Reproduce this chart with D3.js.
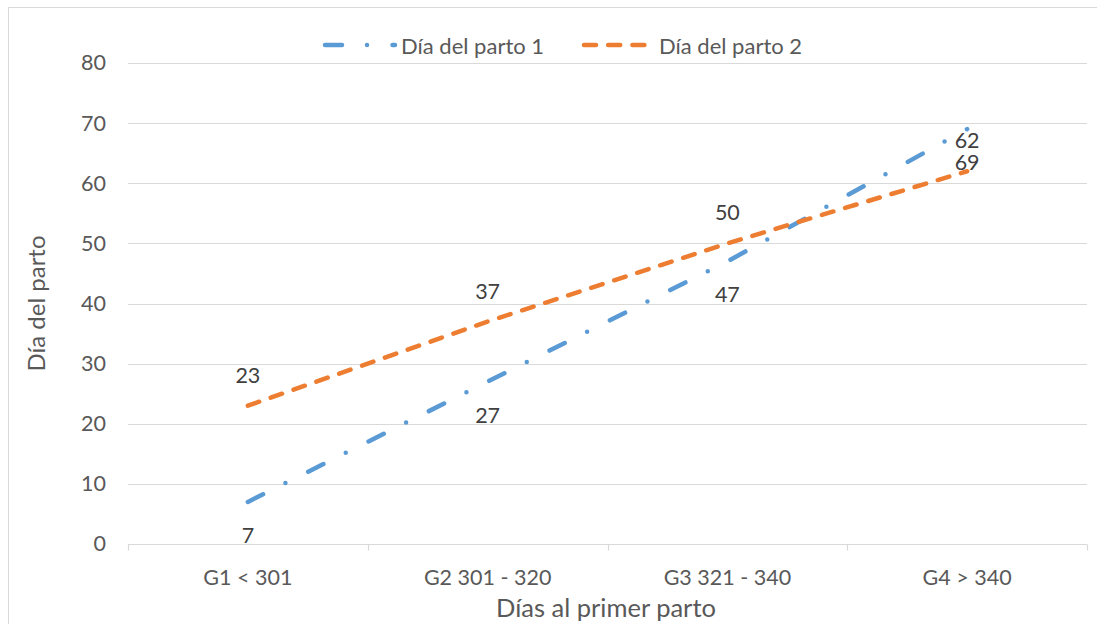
<!DOCTYPE html>
<html>
<head>
<meta charset="utf-8">
<script src="https://cdn.jsdelivr.net/npm/d3@7"></script>
<style>
  body { margin: 0; background: #fff; }
  svg { display: block; }
</style>
</head>
<body>
<svg id="chart" width="1097" height="624"></svg>
<script>
// Categories and series
const categories = ["G1 < 301", "G2 301 - 320", "G3 321 - 340", "G4 > 340"];
const parto1 = [7, 27, 47, 69];
const parto2 = [23, 37, 50, 62];
const seriesNames = ["Día del parto 1", "Día del parto 2"];
const yTicks = [0, 10, 20, 30, 40, 50, 60, 70, 80];
const xTitle = "Días al primer parto";
const yTitle = "Día del parto";

const FONT = "Lato, 'Open Sans', sans-serif";
const BLUE = "#5B9BD5", ORANGE = "#ED7D31";
const GRID = "#d9d9d9", TEXT = "#595959", LABEL = "#404040";
const LW = 4.5;
const DASH_BLUE = "17,25,0,25.5";
const DASH_ORANGE = "12,12.2";

const svg = d3.select("#chart");

// outer chart frame
svg.append("rect")
  .attr("x", 8.5).attr("y", 7.5).attr("width", 1100).attr("height", 640)
  .attr("fill", "none").attr("stroke", GRID).attr("stroke-width", 1);

const x = d3.scaleBand().domain(categories).range([128, 1087]);
const y = d3.scaleLinear().domain([0, 80]).range([544, 63]);
const cx = c => x(c) + x.bandwidth() / 2;

// horizontal gridlines
svg.append("g").selectAll("line").data(yTicks.filter(t => t > 0)).join("line")
  .attr("x1", 128).attr("x2", 1087)
  .attr("y1", d => Math.round(y(d)) + 0.5).attr("y2", d => Math.round(y(d)) + 0.5)
  .attr("stroke", GRID).attr("stroke-width", 1.2);

// y-axis labels
const yAxis = d3.axisLeft(y).tickValues(yTicks).tickSize(0).tickPadding(22);
const gy = svg.append("g").attr("transform", "translate(128,0)").call(yAxis);
gy.select(".domain").remove();
gy.selectAll("text").attr("font-family", FONT).attr("font-size", 21.5).attr("fill", TEXT);

// x-axis with category boundary ticks
const gx = svg.append("g").attr("transform", `translate(0,${Math.round(y(0)) + 0.5})`);
gx.append("line").attr("x1", 128).attr("x2", 1087).attr("stroke", GRID).attr("stroke-width", 1.2);
const bounds = categories.map(c => x(c)).concat([x.range()[1]]);
gx.selectAll("line.tick").data(bounds).join("line").attr("class", "tick")
  .attr("x1", d => Math.round(d) + 0.5).attr("x2", d => Math.round(d) + 0.5)
  .attr("y1", 0).attr("y2", 6).attr("stroke", GRID).attr("stroke-width", 1.2);
gx.selectAll("text").data(categories).join("text")
  .attr("x", d => cx(d)).attr("y", 32)
  .attr("text-anchor", "middle").attr("dominant-baseline", "central")
  .attr("font-family", FONT).attr("font-size", 21.5).attr("fill", TEXT)
  .text(d => d);

// axis titles
svg.append("text").attr("x", 606).attr("y", 607)
  .attr("text-anchor", "middle").attr("dominant-baseline", "central")
  .attr("font-family", FONT).attr("font-size", 25.5).attr("fill", TEXT).text(xTitle);
svg.append("text").attr("transform", "translate(35,303.5) rotate(-90)")
  .attr("text-anchor", "middle").attr("dominant-baseline", "central")
  .attr("font-family", FONT).attr("font-size", 24).attr("fill", TEXT).text(yTitle);

// series lines
const line = d3.line().x(d => cx(d.c)).y(d => y(d.v));
const series = [
  { name: seriesNames[0], values: parto1, color: BLUE, dash: DASH_BLUE, labelDy: 33 },
  { name: seriesNames[1], values: parto2, color: ORANGE, dash: DASH_ORANGE, labelDy: -31 }
];
series.forEach(s => {
  const pts = categories.map((c, i) => ({ c, v: s.values[i] }));
  svg.append("path").datum(pts)
    .attr("d", line).attr("fill", "none")
    .attr("stroke", s.color).attr("stroke-width", LW)
    .attr("stroke-linecap", "round").attr("stroke-dasharray", s.dash);
  svg.append("g").selectAll("text").data(pts).join("text")
    .attr("x", d => cx(d.c)).attr("y", d => y(d.v) + s.labelDy)
    .attr("text-anchor", "middle").attr("dominant-baseline", "central")
    .attr("font-family", FONT).attr("font-size", 21.5).attr("fill", LABEL)
    .text(d => d.v);
});

// legend
const legend = [
  { s: series[0], x0: 325, x1: 395, tx: 401 },
  { s: series[1], x0: 584, x1: 654, tx: 659 }
];
legend.forEach(l => {
  svg.append("line").attr("x1", l.x0).attr("x2", l.x1).attr("y1", 45).attr("y2", 45)
    .attr("stroke", l.s.color).attr("stroke-width", LW)
    .attr("stroke-linecap", "round").attr("stroke-dasharray", l.s.dash);
  svg.append("text").attr("x", l.tx).attr("y", 45).attr("dominant-baseline", "central")
    .attr("font-family", FONT).attr("font-size", 22).attr("fill", TEXT).text(l.s.name);
});
</script>
</body>
</html>
